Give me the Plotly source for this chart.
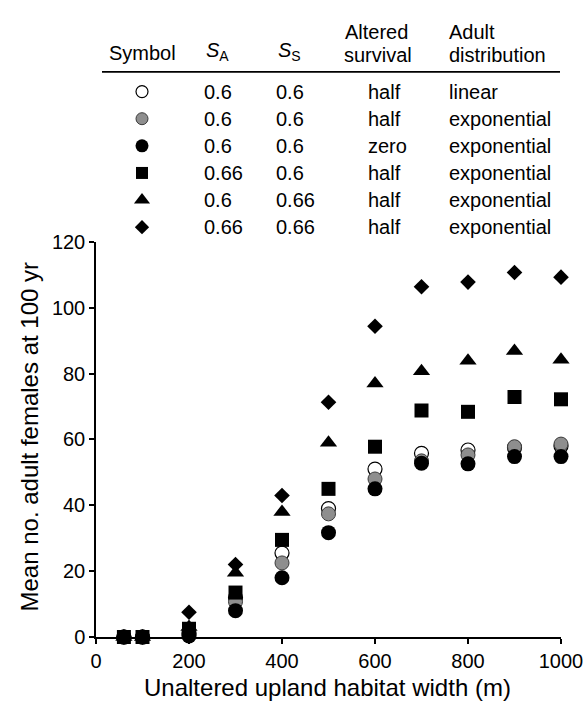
import plotly.graph_objects as go

# ---------------- data ----------------
widths = [60, 100, 200, 300, 400, 500, 600, 700, 800, 900, 1000]
open_linear = [0, 0, 1, 12, 25.5, 39, 51, 55.8, 56.8, 57.5, 58]
gray_exp = [0, 0, 1, 10.7, 22.5, 37.4, 48, 53.5, 55.3, 57.8, 58.6]
black_zero = [0, 0, 0.3, 8, 18, 31.7, 45, 52.8, 52.6, 54.8, 54.8]
square_sa066 = [0, 0, 2.5, 13.5, 29.5, 45, 57.8, 68.8, 68.4, 72.9, 72.2]
triangle_ss066 = [0, 0, 3, 19.5, 38, 59, 77, 80.7, 83.9, 86.9, 84.2]
diamond_both066 = [0, 0, 7.5, 22, 43, 71.3, 94.4, 106.4, 107.8, 110.7, 109.3]

x_ticks = [0, 200, 400, 600, 800, 1000]
y_ticks = [0, 20, 40, 60, 80, 100, 120]

# table contents
tbl_sa = ["0.6", "0.6", "0.6", "0.66", "0.6", "0.66"]
tbl_ss = ["0.6", "0.6", "0.6", "0.6", "0.66", "0.66"]
tbl_altered = ["half", "half", "zero", "half", "half", "half"]
tbl_adult = ["linear", "exponential", "exponential", "exponential", "exponential", "exponential"]

# ---------------- styles ----------------
FONT = "Liberation Sans, Arial, Helvetica, sans-serif"
W, H = 586, 705
L, R = 96, 561          # plot area px (x)
TOP, BOT = 235, 637     # plot area px (y) for main axis
styles = [
    dict(symbol="circle", size=14, color="white", line=dict(color="black", width=1.2)),
    dict(symbol="circle", size=14, color="#8e8e8e", line=dict(color="#3a3a3a", width=1)),
    dict(symbol="circle", size=15, color="black", line=dict(width=0)),
    dict(symbol="square", size=14, color="black", line=dict(width=0)),
    dict(symbol="triangle-up", size=15, color="black", line=dict(width=0)),
    dict(symbol="diamond", size=12, color="black", line=dict(width=0)),
]
table_styles = [
    dict(symbol="circle", size=12, color="white", line=dict(color="black", width=1.2)),
    dict(symbol="circle", size=12, color="#8e8e8e", line=dict(color="#3a3a3a", width=1)),
    dict(symbol="circle", size=13, color="black", line=dict(width=0)),
    dict(symbol="square", size=12, color="black", line=dict(width=0)),
    dict(symbol="triangle-up", size=14, color="black", line=dict(width=0)),
    dict(symbol="diamond", size=11, color="black", line=dict(width=0)),
]
series = [open_linear, gray_exp, black_zero, square_sa066, triangle_ss066, diamond_both066]
draw_order = [0, 1, 2, 4, 5, 3]

fig = go.Figure()

# ---------- table symbols (pixel coordinate overlay axes) ----------
row0, row_dy = 82, 27.6
rows_y = [row0 + k * row_dy for k in range(len(tbl_sa))]
for k in range(len(tbl_sa)):
    fig.add_trace(go.Scatter(
        x=[142], y=[rows_y[k]], mode="markers", marker=table_styles[k],
        xaxis="x2", yaxis="y2", cliponaxis=False, showlegend=False, hoverinfo="skip"))

for i in draw_order:
    fig.add_trace(go.Scatter(
        x=widths, y=series[i], mode="markers", marker=styles[i],
        cliponaxis=False, showlegend=False, hoverinfo="skip"))


def px(xp):
    return (xp - L) / (R - L)


def py(yp):
    return (BOT - yp) / BOT


ann = []


def txt(t, x, y, anchor="left", size=20):
    ann.append(dict(text=t, x=px(x), y=py(y), xref="paper", yref="paper",
                    xanchor=anchor, yanchor="middle", showarrow=False,
                    font=dict(family=FONT, size=size, color="black")))


# headers
txt("Symbol", 142, 43, "center")
txt("<i>S</i><sub>A</sub>", 204, 41)
txt("<i>S</i><sub>S</sub>", 276, 41)
txt("Altered", 376, 21, "center")
txt("survival", 378, 45, "center")
txt("Adult", 447, 21)
txt("distribution", 447, 45)
for k in range(len(tbl_sa)):
    txt(tbl_sa[k], 202, rows_y[k])
    txt(tbl_ss[k], 274, rows_y[k])
    txt(tbl_altered[k], 366, rows_y[k])
    txt(tbl_adult[k], 447, rows_y[k])

# axis titles
txt("Unaltered upland habitat width (m)", 327, 688, "center", 24)
ann.append(dict(text="Mean no. adult females at 100 yr", x=px(30), y=py(433),
                xref="paper", yref="paper", xanchor="center", yanchor="middle",
                textangle=-90, showarrow=False,
                font=dict(family=FONT, size=24, color="black")))

fig.update_layout(
    width=W, height=H,
    margin=dict(l=L, r=W - R, t=0, b=H - BOT),
    paper_bgcolor="white", plot_bgcolor="rgba(0,0,0,0)",
    font=dict(family=FONT, size=20, color="black"),
    annotations=ann,
    shapes=[dict(type="line", xref="paper", yref="paper",
                 x0=px(102), x1=px(560), y0=py(62), y1=py(62),
                 line=dict(color="black", width=1.8))],
    xaxis=dict(range=[0, 1000], tickvals=x_ticks, showline=True, linecolor="black",
               linewidth=1.5, ticks="outside", ticklen=5, tickwidth=1.5,
               tickcolor="black", showgrid=False, zeroline=False,
               tickfont=dict(family=FONT, size=20), anchor="y"),
    yaxis=dict(range=[0, 120], tickvals=y_ticks, domain=[0, (BOT - TOP) / BOT],
               showline=True, linecolor="black", linewidth=1.5, ticks="outside",
               ticklen=5, tickwidth=1.5, tickcolor="black", showgrid=False,
               zeroline=False, tickfont=dict(family=FONT, size=20), anchor="x"),
    xaxis2=dict(range=[L, R], domain=[0, 1], visible=False, anchor="y2"),
    yaxis2=dict(range=[BOT, 0], domain=[0, 1], visible=False, anchor="x2"),
)

fig.write_html("out.html", config={"displayModeBar": False},
               post_script="document.body.style.margin='0';document.body.style.padding='0';")
